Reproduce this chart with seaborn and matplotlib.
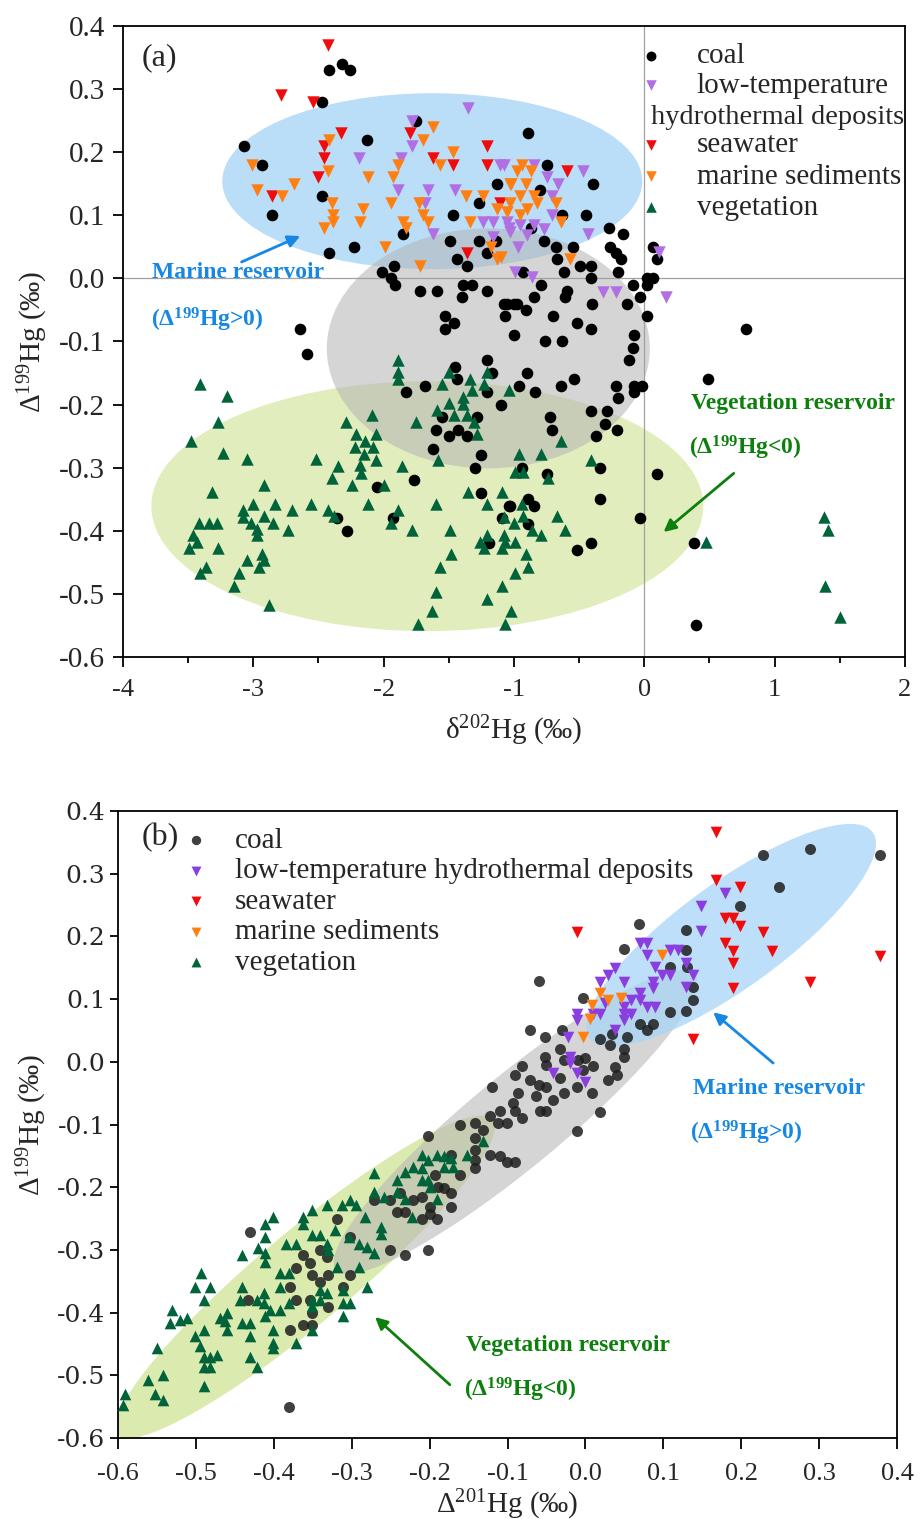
import matplotlib
matplotlib.use('Agg')
import matplotlib.pyplot as plt
import matplotlib.transforms as mtransforms
from matplotlib.patches import Ellipse
from matplotlib.ticker import MultipleLocator, FormatStrFormatter
import pandas as pd
import seaborn as sns

# ---------------- panel (a): d202Hg vs D199Hg ----------------
coal_a = [
    (-2.42, 0.33), (-2.32, 0.34), (-2.26, 0.33), (-2.47, 0.28), (-3.07, 0.21), (-2.13, 0.22),
    (-2.93, 0.18), (-1.75, 0.25), (-1.13, 0.15), (-2.47, 0.13), (-2.86, 0.10), (-1.47, 0.10),
    (-1.27, 0.12), (-1.85, 0.07), (-1.49, 0.06), (-1.27, 0.06), (-1.14, 0.06), (-2.42, 0.04),
    (-2.23, 0.05), (-1.44, 0.03), (-1.36, 0.02), (-1.21, 0.04), (-2.01, 0.01), (-1.92, 0.02),
    (-1.94, 0.00), (-1.91, -0.01), (-1.72, -0.02), (-1.59, -0.02), (-1.39, -0.01), (-1.32, -0.01),
    (-1.40, -0.03), (-1.21, -0.02), (-1.08, -0.04), (-1.00, -0.04), (-1.07, -0.06), (-1.53, -0.06),
    (-1.46, -0.07), (-1.53, -0.08), (-1.00, -0.09), (-2.64, -0.08), (-2.59, -0.12),
    (-0.89, 0.23), (-0.75, 0.18), (-0.80, 0.14), (-0.39, 0.15), (-0.63, 0.10), (-0.45, 0.10),
    (-0.27, 0.08), (-0.16, 0.07), (-0.87, 0.08), (-0.77, 0.06), (-0.68, 0.05), (-0.55, 0.05),
    (-0.26, 0.05), (-0.22, 0.04), (-0.18, 0.03), (0.07, 0.05), (0.10, 0.03), (0.07, 0.00),
    (0.02, 0.00), (-0.67, 0.03), (-0.49, 0.02), (-0.41, 0.02), (-0.20, 0.01), (-0.62, 0.01),
    (-0.93, 0.01), (-0.79, -0.01), (-0.59, -0.02), (-0.41, 0.00), (-0.09, -0.01), (0.02, -0.01),
    (-0.03, -0.03), (-0.13, -0.04), (-0.40, -0.04), (-0.61, -0.03), (-0.85, -0.03), (-0.98, -0.04),
    (-1.05, -0.04), (-0.91, -0.05), (-0.70, -0.06), (-0.52, -0.07), (-0.41, -0.08), (0.02, -0.06),
    (-0.08, -0.09), (-0.76, -0.10), (-0.63, -0.10), (0.78, -0.08),
    (-0.09, -0.11), (-0.12, -0.13), (0.49, -0.16), (-0.90, -0.15), (-0.96, -0.17), (-0.84, -0.18),
    (-0.64, -0.17), (-0.54, -0.16), (-0.22, -0.17), (-0.20, -0.19), (-0.08, -0.17), (-0.02, -0.17),
    (-0.08, -0.18), (-0.72, -0.22), (-0.71, -0.24), (-0.41, -0.21), (-0.29, -0.21), (-0.30, -0.23),
    (-0.21, -0.24), (-0.37, -0.25), (-0.94, -0.30), (-0.75, -0.31), (-0.34, -0.30), (0.10, -0.31),
    (-1.03, -0.36), (-0.89, -0.35), (-0.85, -0.36), (-0.34, -0.35), (-0.03, -0.38), (-0.89, -0.39),
    (-0.52, -0.43), (-0.41, -0.42), (0.38, -0.42), (0.40, -0.55),
    (-1.21, -0.13), (-1.45, -0.14), (-1.17, -0.15), (-1.44, -0.16), (-1.68, -0.17), (-1.83, -0.18),
    (-1.21, -0.18), (-1.10, -0.20), (-1.55, -0.22), (-1.28, -0.22), (-1.60, -0.24), (-1.43, -0.24),
    (-1.50, -0.25), (-1.36, -0.25), (-1.62, -0.27), (-1.25, -0.28), (-1.30, -0.30), (-1.77, -0.32),
    (-2.05, -0.33), (-1.25, -0.34), (-1.04, -0.36), (-1.09, -0.38), (-2.36, -0.38), (-2.28, -0.40),
    (-1.93, -0.38), (-1.19, -0.42),
]
lowtemp_a = [
    (-1.35, 0.27), (-1.78, 0.25), (-1.78, 0.21), (-2.19, 0.19), (-1.87, 0.19), (-1.11, 0.18),
    (-1.89, 0.14), (-1.66, 0.14), (-1.45, 0.14), (-1.68, 0.12), (-1.24, 0.09), (-1.16, 0.09),
    (-1.04, 0.08), (-1.62, 0.07), (-1.16, 0.065), (-0.99, 0.01), (-0.47, 0.17), (-0.75, 0.16),
    (-0.66, 0.15), (-0.71, 0.13), (-1.08, 0.18), (-0.85, 0.18), (-0.71, 0.10), (-1.05, 0.09),
    (-0.95, 0.084), (-0.85, 0.084), (-0.77, 0.079), (-1.03, 0.073), (-0.90, 0.068), (-0.97, 0.05),
    (-0.43, 0.07), (-0.86, 0.002), (-0.32, -0.022), (-0.22, -0.022), (0.11, 0.042), (0.17, -0.03),
]
seawater_a = [
    (-2.43, 0.37), (-2.79, 0.29), (-2.54, 0.28), (-2.33, 0.23), (-1.80, 0.23), (-2.46, 0.21),
    (-2.46, 0.19), (-1.62, 0.19), (-1.47, 0.18), (-1.21, 0.21), (-1.21, 0.18), (-2.50, 0.16),
    (-2.86, 0.13), (-1.36, 0.04), (-1.11, 0.12), (-0.59, 0.17),
]
sediments_a = [
    (-1.62, 0.24), (-1.70, 0.22), (-2.42, 0.22), (-1.47, 0.20), (-3.01, 0.18), (-1.89, 0.18),
    (-1.57, 0.18), (-2.43, 0.17), (-2.12, 0.16), (-1.93, 0.16), (-2.69, 0.15), (-2.97, 0.14),
    (-2.78, 0.13), (-2.40, 0.12), (-1.94, 0.12), (-1.73, 0.12), (-1.37, 0.13), (-1.24, 0.13),
    (-1.03, 0.15), (-2.16, 0.11), (-2.39, 0.10), (-1.70, 0.10), (-1.13, 0.11), (-2.39, 0.09),
    (-2.18, 0.09), (-1.85, 0.09), (-1.66, 0.09), (-2.46, 0.08), (-1.83, 0.08), (-1.34, 0.09),
    (-1.99, 0.05), (-1.18, 0.05), (-1.13, 0.03), (-1.72, 0.02),
    (-0.94, 0.18), (-0.98, 0.17), (-0.87, 0.17), (-1.02, 0.15), (-0.91, 0.15), (-0.95, 0.13),
    (-0.85, 0.13), (-1.03, 0.12), (-0.82, 0.12), (-0.68, 0.12), (-0.90, 0.11), (-0.95, 0.10),
    (-0.64, 0.09), (-1.05, 0.105), (-0.57, 0.03), (-1.10, 0.034),
]
vegetation_a = [
    (-3.41, -0.167), (-3.20, -0.186), (-3.27, -0.228), (-3.48, -0.257), (-3.23, -0.277),
    (-3.05, -0.287), (-3.32, -0.338), (-2.92, -0.327), (-3.00, -0.357), (-2.83, -0.357),
    (-2.70, -0.367), (-3.08, -0.367), (-2.92, -0.376), (-3.08, -0.378), (-3.42, -0.387),
    (-3.34, -0.387), (-3.28, -0.387), (-3.02, -0.387), (-2.85, -0.387), (-2.97, -0.397),
    (-2.73, -0.398), (-3.46, -0.407), (-2.97, -0.407), (-3.43, -0.418), (-3.49, -0.428),
    (-3.27, -0.428), (-2.93, -0.437), (-2.92, -0.447), (-3.05, -0.447), (-2.96, -0.458),
    (-3.36, -0.458), (-3.41, -0.467), (-3.11, -0.467), (-3.15, -0.488), (-2.88, -0.517),
    (-2.52, -0.287), (-2.29, -0.228), (-2.09, -0.217), (-2.21, -0.247), (-2.06, -0.247),
    (-2.14, -0.257), (-2.22, -0.267), (-2.08, -0.267), (-2.15, -0.278), (-2.06, -0.288),
    (-2.18, -0.296), (-2.35, -0.298), (-2.17, -0.309), (-2.40, -0.317), (-2.24, -0.327),
    (-2.00, -0.327), (-1.86, -0.298), (-2.12, -0.357), (-2.56, -0.357), (-2.43, -0.367),
    (-2.38, -0.377), (-1.89, -0.367), (-1.94, -0.387), (-1.78, -0.398), (-1.60, -0.357),
    (-1.49, -0.398), (-1.48, -0.437), (-1.57, -0.458), (-1.60, -0.497), (-1.63, -0.527),
    (-1.74, -0.547), (-1.89, -0.129), (-1.89, -0.149), (-1.89, -0.159), (-1.75, -0.228),
    (-1.50, -0.149), (-1.55, -0.167), (-1.34, -0.159), (-1.21, -0.148), (-1.23, -0.167),
    (-1.32, -0.177), (-1.39, -0.188), (-1.50, -0.197), (-1.39, -0.199), (-1.59, -0.208),
    (-1.46, -0.217), (-1.36, -0.217), (-1.31, -0.228), (-1.28, -0.246), (-1.58, -0.288),
    (-1.35, -0.338), (-1.21, -0.357), (-1.21, -0.407), (-1.07, -0.418), (-1.26, -0.418),
    (-1.23, -0.428), (-1.21, -0.508),
    (-1.04, -0.177), (-0.64, -0.257), (-0.96, -0.278), (-0.79, -0.278), (-0.41, -0.288),
    (-0.99, -0.307), (-0.93, -0.307), (-0.74, -0.317), (-1.09, -0.339), (-0.94, -0.357),
    (-1.08, -0.378), (-1.00, -0.388), (-0.93, -0.376), (-0.67, -0.377), (-0.86, -0.398),
    (-0.61, -0.398), (-0.79, -0.407), (-1.08, -0.407), (-0.99, -0.418), (-1.09, -0.428),
    (-0.91, -0.437), (-0.89, -0.458), (-0.99, -0.467), (-1.09, -0.488), (-1.02, -0.527),
    (-1.07, -0.547), (0.47, -0.418), (1.38, -0.378), (1.41, -0.398), (1.39, -0.488), (1.50, -0.537),
]

# ---------------- panel (b): D201Hg vs D199Hg ----------------
coal_b = [
    (-0.431, -0.271), (-0.381, -0.550), (-0.319, -0.250), (-0.302, -0.279), (-0.362, -0.308),
    (-0.371, -0.329), (-0.354, -0.321), (-0.341, -0.300), (-0.332, -0.311), (-0.351, -0.340),
    (-0.341, -0.351), (-0.330, -0.340), (-0.302, -0.340), (-0.311, -0.359), (-0.379, -0.359),
    (-0.371, -0.380), (-0.354, -0.380), (-0.351, -0.401), (-0.330, -0.391), (-0.379, -0.428),
    (-0.362, -0.420), (-0.351, -0.420), (-0.433, -0.380), (-0.251, -0.300), (-0.232, -0.308),
    (-0.202, -0.300), (-0.202, -0.119), (-0.161, -0.101), (-0.272, -0.220), (-0.251, -0.220),
    (-0.238, -0.210), (-0.242, -0.239), (-0.232, -0.239), (-0.221, -0.220), (-0.210, -0.250),
    (-0.200, -0.242), (-0.191, -0.250), (-0.193, -0.180), (-0.189, -0.199), (-0.182, -0.202),
    (-0.172, -0.210), (-0.172, -0.231), (-0.161, -0.180), (-0.172, -0.149), (-0.210, -0.215),
    (-0.200, -0.231),
    (-0.060, 0.129), (-0.003, 0.101), (-0.071, 0.051), (-0.052, 0.040), (-0.030, 0.051),
    (-0.033, 0.021), (-0.052, 0.008), (-0.050, -0.005), (-0.028, 0.003), (-0.009, 0.003),
    (-0.001, 0.006), (0.010, -0.007), (-0.003, -0.013), (-0.082, -0.007), (-0.090, -0.021),
    (-0.071, -0.029), (-0.060, -0.037), (-0.050, -0.040), (-0.033, -0.026), (-0.028, -0.050),
    (-0.041, -0.061), (-0.063, -0.055), (-0.058, -0.079), (-0.050, -0.079), (-0.086, -0.050),
    (-0.093, -0.066), (-0.090, -0.079), (-0.082, -0.090), (-0.110, -0.079), (-0.120, -0.040),
    (-0.122, -0.087), (-0.112, -0.098), (-0.101, -0.098), (-0.142, -0.098), (-0.131, -0.109),
    (-0.142, -0.122), (-0.142, -0.141), (-0.142, -0.156), (-0.142, -0.170), (-0.122, -0.148),
    (-0.110, -0.151), (-0.101, -0.159), (-0.090, -0.159), (-0.011, -0.111), (0.019, -0.080),
    (0.008, -0.050), (0.038, -0.008), (0.029, -0.029), (0.040, -0.021), (0.049, 0.008),
    (0.049, 0.021), (0.034, 0.045), (0.019, 0.037), (0.032, 0.027), (-0.011, -0.040),
    (0.053, 0.040), (0.070, 0.061), (0.087, 0.061), (0.079, 0.051), (0.109, 0.080),
    (0.228, 0.330), (0.288, 0.339), (0.378, 0.330), (0.249, 0.279), (0.198, 0.248),
    (0.069, 0.220), (0.129, 0.210), (0.049, 0.180), (0.129, 0.178), (0.109, 0.152),
    (0.130, 0.152), (0.138, 0.119), (0.138, 0.099), (0.129, 0.081),
]
lowtemp_b = [
    (0.179, 0.269), (0.149, 0.248), (0.149, 0.209), (0.070, 0.189), (0.079, 0.189), (0.079, 0.170),
    (0.108, 0.178), (0.119, 0.178), (0.129, 0.158), (0.138, 0.138), (0.129, 0.119), (0.089, 0.152),
    (0.098, 0.138), (0.108, 0.138), (0.087, 0.128), (0.087, 0.117), (0.070, 0.109), (0.059, 0.098),
    (0.070, 0.098), (0.079, 0.088), (0.089, 0.088), (0.049, 0.088), (0.049, 0.077), (0.049, 0.067),
    (0.059, 0.077), (0.038, 0.051), (0.019, 0.077), (0.019, 0.128), (0.029, 0.138), (0.038, 0.149),
    (0.049, 0.128), (-0.011, 0.077), (0.010, 0.077), (-0.011, 0.067), (-0.022, 0.040),
    (-0.020, 0.008), (-0.020, -0.002), (-0.041, -0.018), (-0.011, -0.018), (0.000, -0.032),
    (0.025, 0.093),
]
seawater_b = [
    (0.168, 0.367), (0.168, 0.290), (0.198, 0.278), (0.179, 0.230), (0.189, 0.229), (0.198, 0.217),
    (0.228, 0.207), (-0.011, 0.207), (0.179, 0.189), (0.190, 0.177), (0.239, 0.177), (0.189, 0.157),
    (0.189, 0.117), (0.288, 0.128), (0.378, 0.168), (0.138, 0.037),
]
sediments_b = [
    (0.098, 0.170), (0.019, 0.109), (0.029, 0.098), (0.046, 0.101), (0.008, 0.091),
    (0.006, 0.069), (-0.003, 0.039),
]
vegetation_b = [
    (-0.591, -0.529), (-0.593, -0.547), (-0.561, -0.508), (-0.542, -0.500), (-0.553, -0.529),
    (-0.542, -0.539), (-0.490, -0.517), (-0.550, -0.457), (-0.531, -0.396), (-0.520, -0.412),
    (-0.533, -0.417), (-0.512, -0.409), (-0.501, -0.438), (-0.490, -0.428), (-0.493, -0.337),
    (-0.501, -0.359), (-0.482, -0.359), (-0.490, -0.380), (-0.495, -0.454), (-0.490, -0.470),
    (-0.482, -0.470), (-0.473, -0.468), (-0.490, -0.486), (-0.482, -0.486), (-0.431, -0.470),
    (-0.422, -0.486), (-0.469, -0.409), (-0.460, -0.401), (-0.460, -0.428), (-0.463, -0.414),
    (-0.441, -0.417), (-0.431, -0.417), (-0.431, -0.438), (-0.401, -0.428), (-0.401, -0.449),
    (-0.401, -0.457), (-0.371, -0.449), (-0.441, -0.308), (-0.441, -0.359), (-0.443, -0.380),
    (-0.420, -0.297), (-0.411, -0.258), (-0.401, -0.247), (-0.411, -0.279), (-0.411, -0.305),
    (-0.411, -0.319), (-0.384, -0.290), (-0.371, -0.290), (-0.392, -0.337), (-0.381, -0.337),
    (-0.392, -0.359), (-0.422, -0.380), (-0.413, -0.369), (-0.413, -0.385), (-0.405, -0.396),
    (-0.411, -0.406), (-0.392, -0.396), (-0.381, -0.385), (-0.362, -0.247), (-0.362, -0.258),
    (-0.351, -0.236), (-0.351, -0.276), (-0.341, -0.276), (-0.332, -0.228), (-0.332, -0.290),
    (-0.330, -0.300), (-0.321, -0.268), (-0.313, -0.228), (-0.302, -0.220), (-0.294, -0.228),
    (-0.283, -0.247), (-0.304, -0.279), (-0.291, -0.290), (-0.281, -0.295), (-0.272, -0.305),
    (-0.281, -0.359), (-0.291, -0.327), (-0.311, -0.364), (-0.311, -0.385), (-0.302, -0.385),
    (-0.311, -0.406), (-0.341, -0.364), (-0.332, -0.369), (-0.351, -0.380), (-0.351, -0.390),
    (-0.351, -0.428), (-0.341, -0.380), (-0.319, -0.327), (-0.272, -0.178), (-0.259, -0.215),
    (-0.272, -0.207), (-0.262, -0.263), (-0.262, -0.274), (-0.242, -0.188), (-0.232, -0.175),
    (-0.221, -0.167), (-0.210, -0.149), (-0.202, -0.157), (-0.191, -0.149), (-0.182, -0.151),
    (-0.172, -0.154), (-0.170, -0.167), (-0.152, -0.149), (-0.202, -0.188), (-0.210, -0.188),
    (-0.191, -0.218), (-0.223, -0.247), (-0.242, -0.207), (-0.232, -0.218), (-0.210, -0.170),
    (-0.182, -0.167), (-0.200, -0.199), (-0.131, -0.127),
]

xa_ticks = [-4, -3, -2, -1, 0, 1, 2]
y_ticks = [-0.6, -0.5, -0.4, -0.3, -0.2, -0.1, 0.0, 0.1, 0.2, 0.3, 0.4]
xb_ticks = [-0.6, -0.5, -0.4, -0.3, -0.2, -0.1, 0.0, 0.1, 0.2, 0.3, 0.4]

sns.set_theme(style='ticks')
plt.rcParams['font.family'] = ['Liberation Serif', 'DejaVu Serif']
plt.rcParams['mathtext.fontset'] = 'custom'
plt.rcParams['mathtext.rm'] = 'Liberation Serif'
plt.rcParams['mathtext.it'] = 'Liberation Serif:italic'
plt.rcParams['mathtext.bf'] = 'Liberation Serif:bold'
plt.rcParams['mathtext.default'] = 'regular'
plt.rcParams['axes.unicode_minus'] = False

BLUE_TXT = '#1688e4'
GREEN_TXT = '#0c7f0c'

fig = plt.figure(figsize=(9.17, 15.19), dpi=100)
ax_a = fig.add_axes([0.1341, 0.5675, 0.8528, 0.4154])
ax_b = fig.add_axes([0.1287, 0.0533, 0.8495, 0.4128])


def add_ellipse(ax, cx, cy, w_px, h_px, angle, color, alpha):
    # ellipse sized in pixels, centred on a data point
    trans = fig.dpi_scale_trans + mtransforms.ScaledTranslation(cx, cy, ax.transData)
    ax.add_patch(Ellipse((0, 0), w_px / fig.dpi, h_px / fig.dpi, angle=angle,
                         transform=trans, facecolor=color, edgecolor='none',
                         alpha=alpha, zorder=1))


def draw_group(ax, pts, marker, color, size, label, alpha=1.0):
    df = pd.DataFrame(pts, columns=['x', 'y'])
    sns.scatterplot(data=df, x='x', y='y', marker=marker, color=color, s=size,
                    linewidth=0, alpha=alpha, label=label, legend=False, ax=ax, zorder=3)


def style_axes(ax, xlab, ylab, xpad, ypad):
    for sp in ax.spines.values():
        sp.set_visible(True)
        sp.set_linewidth(1.3)
        sp.set_color('black')
    ax.tick_params(axis='both', which='both', direction='out', color='black',
                   width=1.3, top=False, right=False)
    ax.tick_params(axis='x', which='major', length=7, pad=9, labelsize=19)
    ax.tick_params(axis='x', which='minor', length=4)
    ax.set_xlabel(xlab, fontsize=21, labelpad=xpad)
    ax.set_ylabel(ylab, fontsize=21, labelpad=ypad)


leg_kw = dict(loc='upper left', frameon=False, fontsize=21, handlelength=1.0,
              borderpad=0, borderaxespad=0, markerscale=0.85)

# ----- panel (a) -----
ax = ax_a
ax.set_xlim(-4, 2)
ax.set_ylim(-0.6, 0.4)
add_ellipse(ax, -1.665, -0.361, 552, 250, 0, '#dfecb6', 0.9)
add_ellipse(ax, -1.627, 0.154, 420, 176, 0, '#b7dcf8', 0.95)
add_ellipse(ax, -1.197, -0.111, 323, 240, 0, '#b4b4b4', 0.55)
ax.axhline(0, color='#a0a0a0', lw=0.9, zorder=1.5)
ax.axvline(0, color='#a0a0a0', lw=0.9, zorder=1.5)

draw_group(ax, coal_a, 'o', 'black', 70, 'coal')
draw_group(ax, vegetation_a, '^', '#00633a', 80, 'vegetation')
draw_group(ax, lowtemp_a, 'v', '#b06fe3', 80, 'low-temperature')
draw_group(ax, seawater_a, 'v', '#f00c0c', 80, 'seawater')
draw_group(ax, sediments_a, 'v', '#ff7f12', 80, 'marine sediments')

ax.set_xticks(xa_ticks)
ax.xaxis.set_minor_locator(MultipleLocator(0.5))
ax.set_yticks(y_ticks)
ax.yaxis.set_major_formatter(FormatStrFormatter('%.1f'))
style_axes(ax, 'δ$^{202}$Hg (‰)', 'Δ$^{199}$Hg (‰)', 9, 6)
ax.tick_params(axis='y', which='major', length=7, pad=6, labelsize=21)

hd = dict(zip(*ax.get_legend_handles_labels()[::-1]))
leg1 = ax.legend([hd['coal'], hd['low-temperature']], ['coal', 'low-temperature'],
                 bbox_to_anchor=(0.6565, 0.973), handletextpad=1.075,
                 labelspacing=0.1, **leg_kw)
ax.add_artist(leg1)
ax.legend([hd['seawater'], hd['marine sediments'], hd['vegetation']],
          ['seawater', 'marine sediments', 'vegetation'],
          bbox_to_anchor=(0.6565, 0.832), handletextpad=1.075,
          labelspacing=0.17, **leg_kw)
ax.text(0.675, 0.855, 'hydrothermal deposits', transform=ax.transAxes,
        ha='left', va='center', fontsize=20.4, zorder=5)
ax.text(0.047, 0.949, '(a)', transform=ax.transAxes, ha='center', va='center', fontsize=23)

ax.text(-3.116, 0.0095, 'Marine reservoir', color=BLUE_TXT, fontsize=17,
        fontweight='bold', ha='center', va='center', zorder=5)
ax.text(-3.354, -0.0666, '(Δ$^{199}$Hg>0)', color=BLUE_TXT, fontsize=17,
        fontweight='bold', ha='center', va='center', zorder=5)
ax.annotate('', xy=(-2.64, 0.067), xytext=(-3.09, 0.026),
            arrowprops=dict(arrowstyle='-|>,head_length=0.6,head_width=0.3',
                            color=BLUE_TXT, lw=2, shrinkA=0, shrinkB=0), zorder=5)
ax.text(1.143, -0.198, 'Vegetation reservoir', color=GREEN_TXT, fontsize=17,
        fontweight='bold', ha='center', va='center', zorder=5)
ax.text(0.775, -0.269, '(Δ$^{199}$Hg<0)', color=GREEN_TXT, fontsize=17,
        fontweight='bold', ha='center', va='center', zorder=5)
ax.annotate('', xy=(0.148, -0.402), xytext=(0.686, -0.309),
            arrowprops=dict(arrowstyle='-|>,head_length=0.6,head_width=0.3',
                            color=GREEN_TXT, lw=2, shrinkA=0, shrinkB=0), zorder=5)

# ----- panel (b) -----
ax = ax_b
ax.set_xlim(-0.6, 0.4)
ax.set_ylim(-0.6, 0.4)
add_ellipse(ax, -0.360, -0.343, 490, 92, 40, '#d8e9a6', 0.9)
add_ellipse(ax, -0.090, -0.096, 465, 92, 39.5, '#b4b4b4', 0.55)
add_ellipse(ax, 0.187, 0.202, 350, 105, 36, '#a9d5f7', 0.75)

draw_group(ax, coal_b, 'o', '#1e1e1e', 63, 'coal', alpha=0.85)
draw_group(ax, vegetation_b, '^', '#00633a', 70, 'vegetation')
draw_group(ax, lowtemp_b, 'v', '#8a3ee0', 70, 'low-temperature hydrothermal deposits')
draw_group(ax, seawater_b, 'v', '#f00c0c', 70, 'seawater')
draw_group(ax, sediments_b, 'v', '#ff7f12', 70, 'marine sediments')

ax.set_xticks(xb_ticks)
ax.set_yticks(y_ticks)
ax.xaxis.set_major_formatter(FormatStrFormatter('%.1f'))
ax.yaxis.set_major_formatter(FormatStrFormatter('%.1f'))
style_axes(ax, 'Δ$^{201}$Hg (‰)', 'Δ$^{199}$Hg (‰)', 2, 6)
ax.tick_params(axis='x', which='major', length=8, pad=10)
ax.tick_params(axis='y', which='major', length=6, pad=3, labelsize=18,
               labelfontfamily='DejaVu Serif')

hd = dict(zip(*ax.get_legend_handles_labels()[::-1]))
order_b = ['coal', 'low-temperature hydrothermal deposits', 'seawater',
           'marine sediments', 'vegetation']
ax.legend([hd[k] for k in order_b], order_b, bbox_to_anchor=(0.0814, 0.974),
          handletextpad=0.835, labelspacing=0.14, **leg_kw)
ax.text(0.054, 0.957, '(b)', transform=ax.transAxes, ha='center', va='center', fontsize=23)

ax.text(0.249, -0.042, 'Marine reservoir', color=BLUE_TXT, fontsize=17,
        fontweight='bold', ha='center', va='center', zorder=5)
ax.text(0.206, -0.114, '(Δ$^{199}$Hg>0)', color=BLUE_TXT, fontsize=17,
        fontweight='bold', ha='center', va='center', zorder=5)
ax.annotate('', xy=(0.164, 0.079), xytext=(0.241, -0.002),
            arrowprops=dict(arrowstyle='-|>,head_length=0.6,head_width=0.3',
                            color=BLUE_TXT, lw=2, shrinkA=0, shrinkB=0), zorder=5)
ax.text(-0.022, -0.452, 'Vegetation reservoir', color=GREEN_TXT, fontsize=17,
        fontweight='bold', ha='center', va='center', zorder=5)
ax.text(-0.084, -0.523, '(Δ$^{199}$Hg<0)', color=GREEN_TXT, fontsize=17,
        fontweight='bold', ha='center', va='center', zorder=5)
ax.annotate('', xy=(-0.270, -0.407), xytext=(-0.174, -0.515),
            arrowprops=dict(arrowstyle='-|>,head_length=0.6,head_width=0.3',
                            color=GREEN_TXT, lw=2, shrinkA=0, shrinkB=0), zorder=5)

fig.savefig('out.png', dpi=100)
